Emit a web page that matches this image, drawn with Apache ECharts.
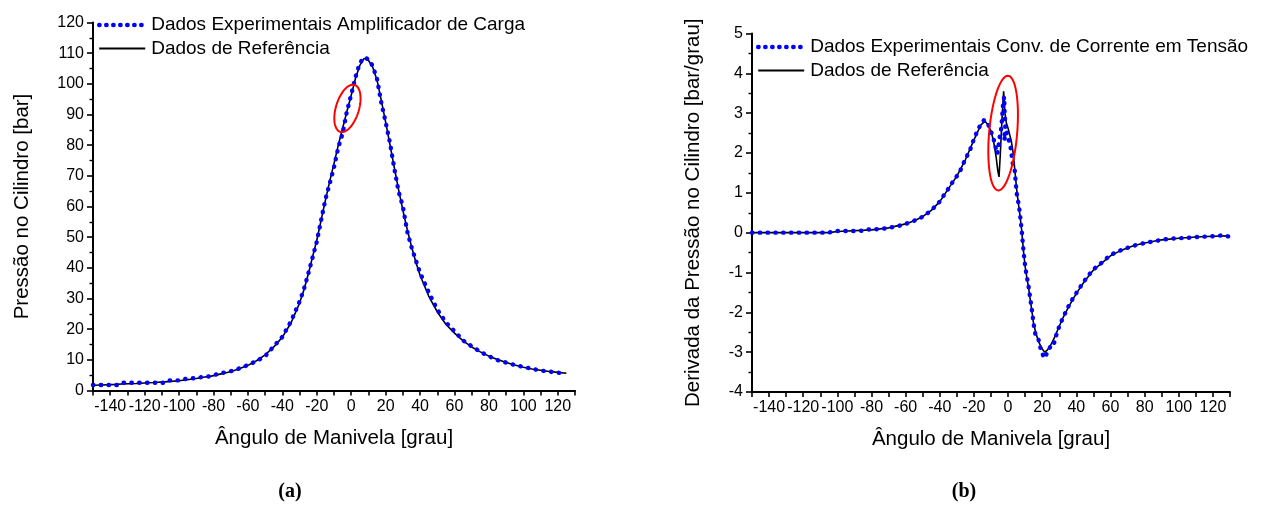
<!DOCTYPE html>
<html>
<head>
<meta charset="utf-8">
<script src="https://cdn.jsdelivr.net/npm/echarts@6/dist/echarts.min.js"></script>
<style>
  html, body { margin: 0; padding: 0; background: #fff; }
  #chart { width: 1263px; height: 516px; }
</style>
</head>
<body>
<div id="chart"></div>
<script>
// ---- Cylinder pressure vs crank angle (panel a) ----
const pressureAngles = [-150, -145, -140, -136, -133.5, -125, -115, -108.5, -106.5, -100, -94.5, -90, -86, -82, -78, -75, -72, -68, -65, -60, -55, -50, -45, -40, -35, -30, -27.5, -25, -22.5, -20, -17.5, -15, -12.5, -10, -7.5, -5, -2.5, 0, 2.5, 5, 7.5, 10, 12.5, 15, 17.5, 20, 22.5, 25, 27.5, 30, 32.5, 35, 37.5, 40, 45, 50, 55, 60, 65, 70, 75, 80, 85, 90, 95, 100, 105, 110, 115, 120, 125];
const pressureExp = [1.8, 1.8, 1.8, 1.8, 2.55, 2.55, 2.55, 2.55, 3.3, 3.3, 4.0, 4.0, 4.5, 4.6, 5.3, 5.7, 6.1, 6.5, 7.2, 8.3, 9.6, 11.2, 14.4, 17.5, 22.5, 29.0, 33.0, 38.0, 43.3, 48.5, 55.5, 62.3, 67.5, 72.8, 79.3, 83.8, 91.0, 96.5, 102.2, 106.8, 108.6, 108.0, 105.8, 101.6, 93.8, 87.5, 80.8, 72.5, 64.9, 60.0, 52.0, 46.8, 42.5, 38.4, 32.0, 26.4, 22.2, 19.3, 16.3, 14.4, 12.6, 11.2, 9.9, 9.1, 8.3, 7.7, 7.1, 6.5, 6.2, 5.8, 5.5];
const pressureRef = [1.7, 1.8, 1.9, 2.0, 2.1, 2.3, 2.6, 2.8, 2.9, 3.2, 3.6, 3.9, 4.3, 4.6, 5.1, 5.5, 5.9, 6.5, 7.1, 8.2, 9.7, 11.6, 14.2, 17.4, 22.0, 28.5, 32.8, 37.8, 43.5, 49.0, 55.5, 62.0, 68.2, 74.0, 80.0, 85.5, 91.0, 96.3, 101.8, 106.0, 108.3, 107.7, 105.4, 101.2, 94.5, 87.5, 80.2, 72.8, 65.5, 58.8, 52.6, 47.0, 42.0, 37.6, 30.8, 25.6, 21.6, 18.7, 16.2, 14.2, 12.6, 11.2, 10.1, 9.1, 8.3, 7.6, 7.0, 6.6, 6.2, 5.9, 5.6];

// ---- Pressure derivative vs crank angle (panel b) ----
const derivExpAngles = [-150, -145, -140, -135, -130, -125, -120, -115, -110, -105, -102, -95, -90, -85, -82, -75, -70, -65, -60, -55, -50, -45, -40, -37, -35, -32.5, -30, -27.5, -25, -22.5, -20, -18, -16, -14, -12, -10.5, -9, -7.8, -6.9, -6.3, -5.5, -4.9, -3.9, -2.9, -2.3, -2.0, -1.6, -2.3, -1.0, 0, 0.9, 1.9, 2.3, 3.9, 4.3, 4.9, 5.4, 6.3, 7, 8, 9, 10, 11, 12, 13, 14, 15, 16, 17.5, 18.7, 19.5, 20.5, 21.5, 22.5, 23.5, 25, 26.5, 28, 30, 32, 35, 38, 41, 44, 47, 50, 55, 60, 65, 70, 75, 80, 85, 90, 95, 100, 105, 110, 115, 120, 125, 130];
const derivExp = [0, 0, 0, 0, 0, 0, 0, 0, 0, 0, 0.04, 0.04, 0.04, 0.05, 0.08, 0.09, 0.12, 0.16, 0.22, 0.30, 0.40, 0.56, 0.78, 0.98, 1.10, 1.27, 1.42, 1.60, 1.85, 2.05, 2.35, 2.55, 2.72, 2.83, 2.75, 2.60, 2.42, 2.25, 2.06, 1.98, 2.20, 2.40, 2.65, 3.24, 3.41, 3.00, 2.69, 2.32, 2.53, 2.40, 2.23, 2.06, 1.81, 1.56, 1.35, 1.05, 0.88, 0.70, 0.45, 0.05, -0.45, -0.85, -1.10, -1.35, -1.65, -1.95, -2.30, -2.55, -2.62, -2.85, -3.00, -2.95, -3.15, -3.05, -2.95, -2.85, -2.85, -2.60, -2.35, -2.15, -1.88, -1.65, -1.45, -1.25, -1.08, -0.92, -0.75, -0.56, -0.46, -0.38, -0.31, -0.26, -0.22, -0.18, -0.15, -0.14, -0.13, -0.11, -0.10, -0.09, -0.07, -0.10];
const derivRefAngles = [-150, -105, -100, -80, -70, -60, -55, -50, -45, -40, -35, -30, -25, -20, -16, -13.5, -12, -10, -8.5, -7, -6, -5.3, -4.5, -3.5, -2.6, -1.8, -1, 0, 1, 1.9, 3, 4, 5, 6, 7, 8, 9, 10, 11, 12, 13, 14, 15, 16.5, 18, 20, 21.5, 23, 25, 27, 30, 32, 35, 38, 41, 44, 47, 50, 55, 60, 65, 70, 75, 80, 90, 100, 110, 120, 130];
const derivRef = [0, 0, 0.03, 0.07, 0.12, 0.22, 0.30, 0.40, 0.56, 0.78, 1.10, 1.42, 1.83, 2.33, 2.70, 2.80, 2.72, 2.55, 2.30, 1.90, 1.55, 1.40, 2.00, 2.90, 3.55, 3.00, 2.75, 2.62, 2.45, 2.30, 2.00, 1.55, 1.10, 0.75, 0.42, 0.05, -0.45, -0.85, -1.12, -1.38, -1.68, -1.98, -2.30, -2.55, -2.75, -2.92, -3.00, -2.95, -2.82, -2.65, -2.35, -2.15, -1.90, -1.67, -1.46, -1.27, -1.10, -0.94, -0.76, -0.58, -0.47, -0.38, -0.31, -0.26, -0.18, -0.14, -0.11, -0.09, -0.08];

// axis ranges
const angleRange = [-150, 130];
const pressureRange = [0, 120];
const derivRange = [-4, 5];

const SANS = 'Liberation Sans, Arial, sans-serif';
const zip = (xs, ys) => xs.map((x, i) => [x, ys[i]]);

const BLUE = '#0000ff';
const expStyle = { color: BLUE, width: 4.4, type: [0.4, 7.4], cap: 'round', join: 'round' };
const refStyle = { color: '#000000', width: 1.6 };

function angleAxis(gridIndex) {
  return {
    type: 'value', gridIndex,
    min: angleRange[0], max: angleRange[1], interval: 10,
    name: 'Ângulo de Manivela [grau]', nameLocation: 'middle', nameGap: 37,
    nameTextStyle: { fontSize: 20.5, color: '#000', fontFamily: SANS },
    axisLine: { onZero: false, lineStyle: { color: '#000', width: 2 } },
    axisTick: { inside: false, length: 5, lineStyle: { color: '#000', width: 1.6 } },
    axisLabel: {
      margin: 8, fontSize: 16, color: '#000', fontFamily: SANS,
      formatter: v => (v % 20 === 0 ? String(v) : '')
    },
    splitLine: { show: false }
  };
}

function valueAxis(gridIndex, range, interval, name, nameGap) {
  return {
    type: 'value', gridIndex,
    min: range[0], max: range[1], interval,
    name, nameLocation: 'middle', nameGap,
    nameTextStyle: { fontSize: 20.5, color: '#000', fontFamily: SANS },
    axisLine: { onZero: false, lineStyle: { color: '#000', width: 2 } },
    axisTick: { length: 6, lineStyle: { color: '#000', width: 1.6 } },
    minorTick: { show: true, splitNumber: 2, length: 3.5, lineStyle: { color: '#000', width: 1.4 } },
    axisLabel: { margin: 9, fontSize: 16, color: '#000', fontFamily: SANS },
    splitLine: { show: false }
  };
}

function legendAt(left, top, expName) {
  return {
    orient: 'vertical', left, top, padding: 0,
    itemWidth: 46, itemHeight: 14, itemGap: 3.5,
    selectedMode: false,
    itemStyle: { opacity: 0 },
    textStyle: { fontSize: 19, lineHeight: 20, color: '#000', fontFamily: SANS, padding: [0, 0, 0, 1] },
    data: [
      { name: expName, lineStyle: { color: BLUE, width: 4.4, type: [0.4, 6.6], cap: 'round' } },
      { name: 'Dados de Referência', lineStyle: { color: '#000', width: 2 } }
    ]
  };
}

const chart = echarts.init(document.getElementById('chart'), null, { renderer: 'canvas' });

chart.setOption({
  animation: false,
  backgroundColor: '#fff',
  grid: [
    { left: 93, right: 688, top: 22.5, bottom: 125.5 },
    { left: 752, right: 33, top: 33.5, bottom: 124 }
  ],
  xAxis: [angleAxis(0), angleAxis(1)],
  yAxis: [
    valueAxis(0, pressureRange, 10, 'Pressão no Cilindro [bar]', 60),
    valueAxis(1, derivRange, 1, 'Derivada da Pressão no Cilindro [bar/grau]', 48)
  ],
  legend: [
    legendAt(97, 15, 'Dados Experimentais Amplificador de Carga'),
    legendAt(756, 37, 'Dados Experimentais Conv. de Corrente em Tensão')
  ],
  series: [
    { name: 'Dados de Referência', type: 'line', xAxisIndex: 0, yAxisIndex: 0,
      data: zip(pressureAngles, pressureRef), symbol: 'none',
      itemStyle: { color: '#000' }, lineStyle: refStyle, z: 2 },
    { name: 'Dados Experimentais Amplificador de Carga', type: 'line', xAxisIndex: 0, yAxisIndex: 0,
      data: zip(pressureAngles, pressureExp), symbol: 'none',
      itemStyle: { color: BLUE }, lineStyle: expStyle, z: 3 },
    { name: 'Dados de Referência', type: 'line', xAxisIndex: 1, yAxisIndex: 1,
      data: zip(derivRefAngles, derivRef), symbol: 'none',
      itemStyle: { color: '#000' }, lineStyle: refStyle, z: 2 },
    { name: 'Dados Experimentais Conv. de Corrente em Tensão', type: 'line', xAxisIndex: 1, yAxisIndex: 1,
      data: zip(derivExpAngles, derivExp), symbol: 'none',
      itemStyle: { color: BLUE }, lineStyle: expStyle, z: 3 }
  ]
});

// Red outlines marking the regions around top dead centre.
// center in data units, semi-axes in px, tilt in degrees (top leaning right)
const highlights = [
  { grid: 0, center: [-2.2, 92.0], a: 24.5, b: 11.5, tilt: 17 },
  { grid: 1, center: [-2.9, 2.5], a: 57.5, b: 14, tilt: 5 }
];

function ellipsePoints(cx, cy, a, b, tiltDeg) {
  const phi = tiltDeg * Math.PI / 180;
  const pts = [];
  for (let i = 0; i < 90; i++) {
    const t = i / 90 * Math.PI * 2;
    const x = b * Math.cos(t), y = a * Math.sin(t);
    pts.push([cx + x * Math.cos(phi) - y * Math.sin(phi), cy + x * Math.sin(phi) + y * Math.cos(phi)]);
  }
  return pts;
}

const graphics = highlights.map(h => {
  const p = chart.convertToPixel({ xAxisIndex: h.grid, yAxisIndex: h.grid }, h.center);
  return {
    type: 'polygon', z: 10,
    shape: { points: ellipsePoints(p[0], p[1], h.a, h.b, h.tilt) },
    style: { fill: 'none', stroke: '#ff0000', lineWidth: 2 }
  };
});

graphics.push(
  { type: 'text', x: 290, y: 492, style: { text: '(a)', font: 'bold 20px "Liberation Serif", "Times New Roman", serif', fill: '#000', textAlign: 'center', textVerticalAlign: 'middle' } },
  { type: 'text', x: 964, y: 492, style: { text: '(b)', font: 'bold 20px "Liberation Serif", "Times New Roman", serif', fill: '#000', textAlign: 'center', textVerticalAlign: 'middle' } }
);

chart.setOption({ graphic: graphics });
</script>
</body>
</html>
